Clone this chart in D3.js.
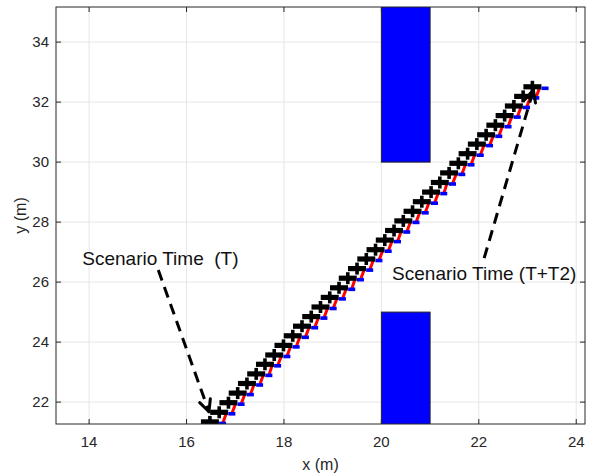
<!DOCTYPE html>
<html>
<head>
<meta charset="utf-8">
<script src="https://cdn.jsdelivr.net/npm/d3@7"></script>
<style>
    body { margin: 0; background: #fff; }
    svg { display: block; font-family: "Liberation Sans", Arial, sans-serif; }
</style>
</head>
<body>
<div id="chart"></div>
<script>
// vehicle positions (m), one per time step
const posX = [16.48, 16.67, 16.86, 17.05, 17.24, 17.43, 17.61, 17.80, 17.99, 18.18,
              18.37, 18.56, 18.75, 18.94, 19.13, 19.31, 19.50, 19.69, 19.88, 20.07,
              20.26, 20.45, 20.64, 20.83, 21.02, 21.20, 21.39, 21.58, 21.77, 21.96,
              22.15, 22.34, 22.53, 22.72, 22.91, 23.10];
const posY = [21.34, 21.66, 21.98, 22.30, 22.62, 22.94, 23.26, 23.57, 23.89, 24.21,
              24.53, 24.85, 25.17, 25.49, 25.81, 26.13, 26.45, 26.77, 27.08, 27.40,
              27.72, 28.04, 28.36, 28.68, 29.00, 29.32, 29.64, 29.96, 30.28, 30.60,
              30.91, 31.23, 31.55, 31.87, 32.19, 32.51];

// obstacles: [x0, x1, y0, y1]
const obstacles = [[20, 21, 30, 35.5], [20, 21, 21, 25]];

const xTicks = [14, 16, 18, 20, 22, 24];
const yTicks = [22, 24, 26, 28, 30, 32, 34];

// annotations: text position, arrow start, arrow tip
const notes = [
    { text: 'Scenario Time  (T)', tx: 13.86, ty: 26.57, from: [15.42, 26.4], to: [16.46, 21.68] },
    { text: 'Scenario Time (T+T2)', tx: 20.22, ty: 26.07, from: [22.11, 26.8], to: [23.12, 32.4] }
];

const width = 596, height = 476;
const margin = { top: 7, right: 11, bottom: 52, left: 56 };
const w = width - margin.left - margin.right;
const h = height - margin.top - margin.bottom;

const x = d3.scaleLinear().domain([13.32, 24.18]).range([0, w]);
const y = d3.scaleLinear().domain([21.27, 35.17]).range([h, 0]);

const svg = d3.select('#chart').append('svg')
    .attr('width', width)
    .attr('height', height);
const g = svg.append('g')
    .attr('transform', `translate(${margin.left},${margin.top})`);

svg.append('defs').append('clipPath').attr('id', 'clip')
    .append('rect').attr('width', w).attr('height', h);

// grid
g.append('g').selectAll('line').data(xTicks).enter().append('line')
    .attr('x1', d => x(d)).attr('x2', d => x(d))
    .attr('y1', 0).attr('y2', h)
    .attr('stroke', '#e6e6e6');
g.append('g').selectAll('line').data(yTicks).enter().append('line')
    .attr('y1', d => y(d)).attr('y2', d => y(d))
    .attr('x1', 0).attr('x2', w)
    .attr('stroke', '#e6e6e6');

const plot = g.append('g').attr('clip-path', 'url(#clip)');

// obstacles
plot.selectAll('.obs').data(obstacles).enter().append('rect')
    .attr('class', 'obs')
    .attr('x', d => x(d[0]))
    .attr('width', d => x(d[1]) - x(d[0]))
    .attr('y', d => y(d[3]))
    .attr('height', d => y(d[2]) - y(d[3]))
    .attr('fill', '#0000ff')
    .attr('stroke', '#222')
    .attr('stroke-width', 1);

const pts = posX.map((v, i) => ({ x: v, y: posY[i] }));

// rear point (blue) and link from each pose to the previous rear point (red)
const frontDx = 0.15, frontDy = -0.02;
const rearDx = 0.26, rearDy = -0.05;
plot.selectAll('.link').data(pts.slice(1)).enter().append('line')
    .attr('x1', d => x(d.x + frontDx)).attr('y1', d => y(d.y + frontDy))
    .attr('x2', (d, i) => x(pts[i].x + rearDx)).attr('y2', (d, i) => y(pts[i].y + rearDy))
    .attr('stroke', '#ff0000')
    .attr('stroke-width', 3);

// vehicle glyphs
const car = plot.selectAll('.car').data(pts).enter().append('g')
    .attr('transform', d => `translate(${x(d.x)},${y(d.y)})`);
car.append('rect').attr('x', -9).attr('y', -2.6).attr('width', 18).attr('height', 5.2).attr('fill', '#000');
car.append('rect').attr('x', -1.8).attr('y', -6).attr('width', 3.6).attr('height', 12).attr('fill', '#000');

plot.selectAll('.rear').data(pts).enter().append('rect')
    .attr('x', d => x(d.x + rearDx) - 3.5).attr('y', d => y(d.y + rearDy) - 1.8)
    .attr('width', 7).attr('height', 3.6)
    .attr('fill', '#0000ff');

// axes box and ticks
const tickLen = 5;
const axisColor = '#262626';
g.append('rect').attr('width', w).attr('height', h)
    .attr('fill', 'none').attr('stroke', axisColor).attr('stroke-width', 1);
xTicks.forEach(t => {
    g.append('line').attr('x1', x(t)).attr('x2', x(t)).attr('y1', h).attr('y2', h - tickLen).attr('stroke', axisColor);
    g.append('line').attr('x1', x(t)).attr('x2', x(t)).attr('y1', 0).attr('y2', tickLen).attr('stroke', axisColor);
});
yTicks.forEach(t => {
    g.append('line').attr('y1', y(t)).attr('y2', y(t)).attr('x1', 0).attr('x2', tickLen).attr('stroke', axisColor);
    g.append('line').attr('y1', y(t)).attr('y2', y(t)).attr('x1', w).attr('x2', w - tickLen).attr('stroke', axisColor);
});

g.selectAll('.xt').data(xTicks).enter().append('text')
    .attr('x', d => x(d)).attr('y', h + 23)
    .attr('text-anchor', 'middle')
    .attr('font-size', 15).attr('fill', axisColor)
    .text(d => d);
g.selectAll('.yt').data(yTicks).enter().append('text')
    .attr('x', -7).attr('y', d => y(d)).attr('dy', '0.35em')
    .attr('text-anchor', 'end')
    .attr('font-size', 15).attr('fill', axisColor)
    .text(d => d);

g.append('text')
    .attr('x', w / 2).attr('y', h + 46)
    .attr('text-anchor', 'middle')
    .attr('font-size', 16).attr('fill', axisColor)
    .text('x (m)');
g.append('text')
    .attr('transform', `translate(-30,${h / 2}) rotate(-90)`)
    .attr('text-anchor', 'middle')
    .attr('font-size', 16).attr('fill', axisColor)
    .text('y (m)');

// annotations
notes.forEach(n => {
    g.append('text')
        .attr('x', x(n.tx)).attr('y', y(n.ty))
        .attr('font-size', 19).attr('fill', '#111')
        .style('white-space', 'pre')
        .text(n.text);
    const x0 = x(n.from[0]), y0 = y(n.from[1]);
    const x1 = x(n.to[0]), y1 = y(n.to[1]);
    g.append('line')
        .attr('x1', x0).attr('y1', y0).attr('x2', x1).attr('y2', y1)
        .attr('stroke', '#000').attr('stroke-width', 3)
        .attr('stroke-dasharray', '11,7');
    const ang = Math.atan2(y1 - y0, x1 - x0);
    const headLen = 13, spread = 0.45;
    [ang + Math.PI - spread, ang + Math.PI + spread].forEach(a => {
        g.append('line')
            .attr('x1', x1).attr('y1', y1)
            .attr('x2', x1 + headLen * Math.cos(a)).attr('y2', y1 + headLen * Math.sin(a))
            .attr('stroke', '#000').attr('stroke-width', 3)
            .attr('stroke-linecap', 'round');
    });
});
</script>
</body>
</html>
